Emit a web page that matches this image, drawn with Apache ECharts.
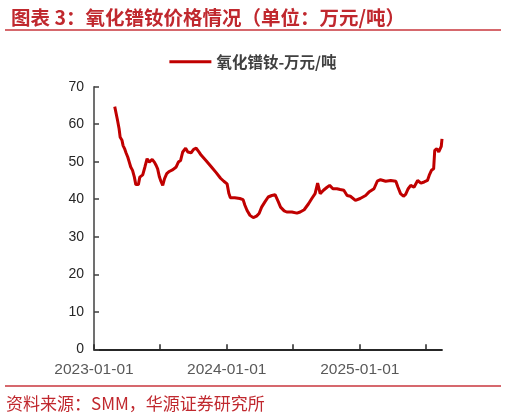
<!DOCTYPE html>
<html>
<head>
<meta charset="utf-8">
<script src="https://cdn.jsdelivr.net/npm/echarts@6/dist/echarts.min.js"></script>
<style>
html,body{margin:0;padding:0;background:#fff;}
#main{width:506px;height:419px;}
</style>
</head>
<body>
<div id="main"></div>
<script>
const titleText = '图表 3：氧化镨钕价格情况（单位：万元/吨）';
const sourceText = '资料来源：SMM，华源证券研究所';
const seriesName = '氧化镨钕-万元/吨';

const dates = [
'2023-02-27','2023-03-06','2023-03-11','2023-03-14','2023-03-19','2023-03-22','2023-03-26','2023-03-30',
'2023-04-04','2023-04-08','2023-04-12','2023-04-17','2023-04-22','2023-04-26','2023-05-03','2023-05-07',
'2023-05-15','2023-05-21','2023-05-27','2023-06-02','2023-06-10','2023-06-16','2023-06-21','2023-06-25',
'2023-06-30','2023-07-04','2023-07-09','2023-07-14','2023-07-20','2023-07-27','2023-08-06','2023-08-15',
'2023-08-21','2023-08-27','2023-09-02','2023-09-10','2023-09-16','2023-09-25','2023-10-02','2023-10-09',
'2023-10-16','2023-10-23','2023-11-06','2023-11-20','2023-12-03','2023-12-15','2023-12-24','2023-12-29',
'2024-01-02','2024-01-07','2024-01-11','2024-01-23','2024-02-06','2024-02-15','2024-02-20','2024-02-26',
'2024-03-05','2024-03-14','2024-03-23','2024-03-30','2024-04-06','2024-04-15','2024-04-24','2024-05-04',
'2024-05-13','2024-05-17','2024-05-22','2024-05-28','2024-06-07','2024-06-14','2024-06-18','2024-06-28',
'2024-07-12','2024-07-21','2024-08-01','2024-08-13','2024-08-22','2024-08-31','2024-09-07','2024-09-12',
'2024-09-14','2024-09-23','2024-10-03','2024-10-10','2024-10-19','2024-10-30','2024-11-08','2024-11-18',
'2024-11-27','2024-12-06','2024-12-20','2025-01-02','2025-01-17','2025-01-26','2025-02-09','2025-02-18',
'2025-02-27','2025-03-13','2025-03-27','2025-04-10','2025-04-16','2025-04-23','2025-05-01','2025-05-07',
'2025-05-14','2025-05-21','2025-05-30','2025-06-09','2025-06-18','2025-06-27','2025-07-06','2025-07-11',
'2025-07-17','2025-07-23','2025-07-26','2025-08-01','2025-08-06','2025-08-11','2025-08-13','2025-08-15'
];
const prices = [
64.7,61.4,58.8,56.5,55.7,54.3,53.5,52.4,
51.2,49.9,48.6,47.7,45.9,43.9,43.9,45.9,
46.5,48.6,50.8,49.9,50.6,49.9,49.0,48.1,
45.9,44.8,43.7,45.5,46.8,47.4,47.9,48.6,
49.9,50.3,52.6,53.6,52.6,52.4,53.3,53.6,
52.7,51.7,50.2,48.6,47.1,45.6,44.8,45.3,
44.1,41.5,40.4,40.4,40.2,39.9,38.4,37.0,
35.7,35.1,35.5,36.2,37.9,39.3,40.6,41.0,
41.2,40.8,39.3,37.9,36.9,36.6,37.0,36.6,
36.3,36.6,37.2,38.8,40.2,41.5,44.3,44.6,
41.5,42.4,43.2,43.7,42.8,42.8,42.6,42.4,
41.0,40.8,39.7,40.2,41.0,41.9,42.8,44.8,
45.2,44.8,45.0,44.8,43.2,41.5,40.8,41.3,
42.8,43.7,43.2,45.0,44.3,44.6,45.0,46.4,
47.7,48.1,53.0,53.5,52.6,53.0,54.1,56.1
];
const xMin = '2023-01-01';
const xMax = '2025-08-15';
const tickDates = ['2023-01-01','2023-07-01','2024-01-01','2024-07-01','2025-01-01','2025-07-01'];
const labelDates = ['2023-01-01','2024-01-01','2025-01-01'];
const yMin = 0, yMax = 70, yStep = 10;

function parseDate(s){ const p = s.split('-'); return Date.UTC(+p[0], +p[1]-1, +p[2]); }
function pad(n){ return (n<10?'0':'')+n; }
function fmt(v){ const d = new Date(Math.round(v)); return d.getUTCFullYear()+'-'+pad(d.getUTCMonth()+1)+'-'+pad(d.getUTCDate()); }

const seriesData = dates.map((d,i)=>[parseDate(d), prices[i]]);

const red = '#C0282E';
const chart = echarts.init(document.getElementById('main'), null, {renderer:'canvas'});
chart.setOption({
  backgroundColor:'#ffffff',
  animation:false,
  title:{
    text:titleText, left:6, top:3,
    textStyle:{fontFamily:'"Noto Sans CJK SC"', fontSize:19.5, fontWeight:'bold', color:red}
  },
  legend:{
    data:[seriesName], left:'center', top:49,
    icon:'rect', itemWidth:42, itemHeight:3, itemGap:10,
    textStyle:{fontFamily:'"Noto Sans CJK SC"', fontSize:15.5, fontWeight:'bold', color:'#404040'}
  },
  grid:{left:94, right:64, top:86.7, bottom:69.7, containLabel:false},
  xAxis:{
    type:'value',
    min:parseDate(xMin), max:parseDate(xMax),
    splitLine:{show:false},
    axisLine:{lineStyle:{color:'#262626', width:1.8}},
    axisTick:{show:true, inside:true, length:5, lineStyle:{color:'#262626', width:1.5},
      customValues: tickDates.map(parseDate)},
    axisLabel:{
      customValues: labelDates.map(parseDate),
      formatter: v => fmt(v),
      fontFamily:'"Liberation Sans", Arial', fontSize:15.5, color:'#595959', margin:12
    }
  },
  yAxis:{
    type:'value', min:yMin, max:yMax, interval:yStep,
    splitLine:{show:false},
    axisLine:{show:true, lineStyle:{color:'#404040', width:1.5}},
    axisTick:{show:true, inside:true, length:5, lineStyle:{color:'#404040', width:1.5}},
    axisLabel:{fontFamily:'"Liberation Sans", Arial', fontSize:14, color:'#262626', margin:10}
  },
  series:[{
    name:seriesName, type:'line', data:seriesData,
    showSymbol:false, symbol:'none',
    lineStyle:{color:'#C00000', width:3},
    itemStyle:{color:'#C00000'}
  }],
  graphic:[
    {type:'line', shape:{x1:5, y1:30, x2:501, y2:30}, style:{stroke:'#C8363C', lineWidth:1.5}},
    {type:'line', shape:{x1:5, y1:386, x2:501, y2:386}, style:{stroke:'#C8363C', lineWidth:1.5}},
    {type:'text', left:6, top:395, style:{text:sourceText, font:'17px "Noto Sans CJK SC"', fill:red}}
  ]
});
</script>
</body>
</html>
